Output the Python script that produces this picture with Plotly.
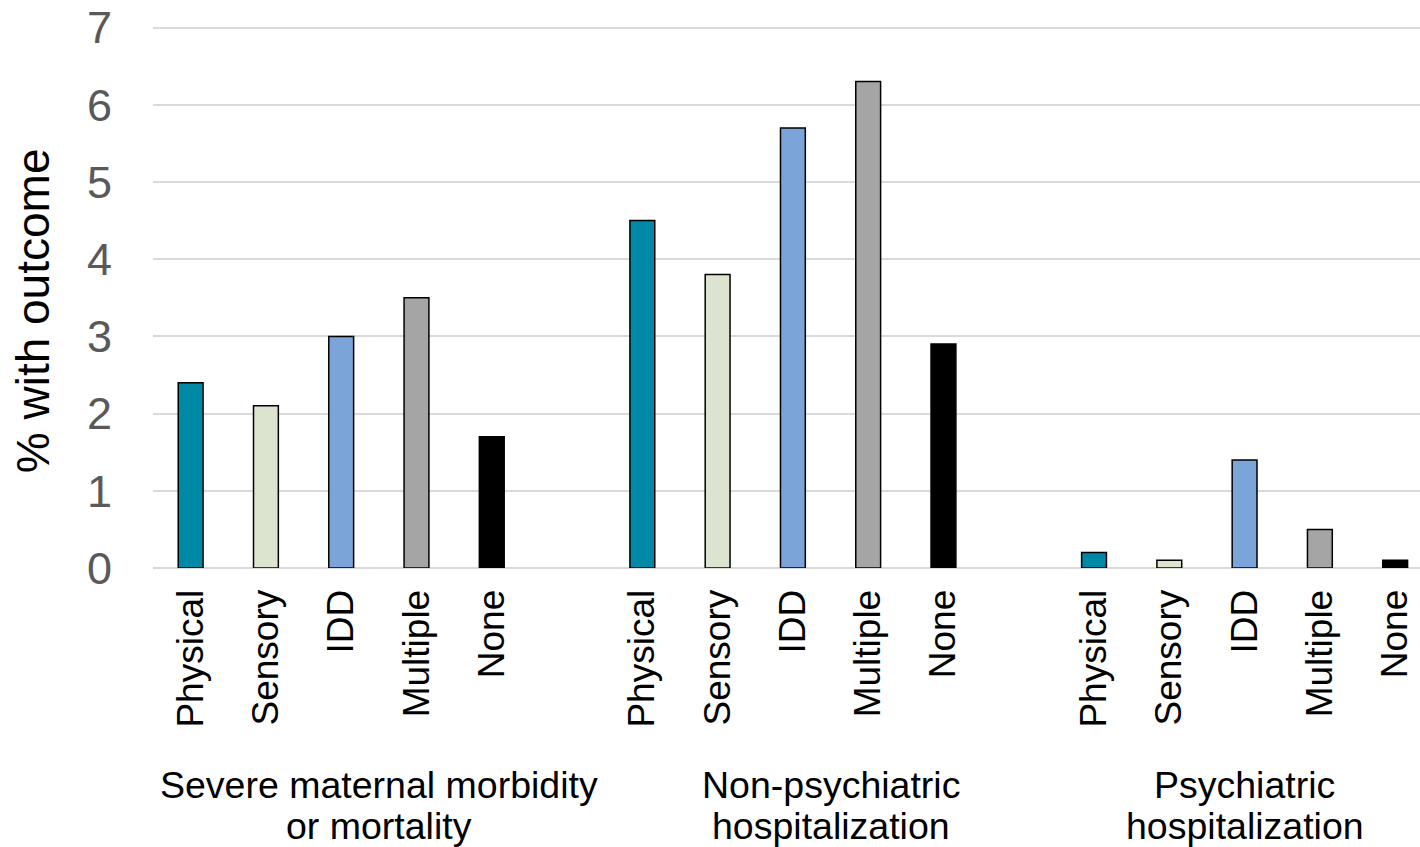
import plotly.graph_objects as go

# Outcome groups and disability categories
groups = ["Severe maternal morbidity<br>or mortality", "Non-psychiatric<br>hospitalization", "Psychiatric<br>hospitalization"]
categories = ["Physical", "Sensory", "IDD", "Multiple", "None"]

# % with outcome, one list per disability category (ordered by outcome group)
physical = [2.4, 4.5, 0.2]
sensory = [2.1, 3.8, 0.1]
idd = [3.0, 5.7, 1.4]
multiple = [3.5, 6.3, 0.5]
none = [1.7, 2.9, 0.1]

series = [physical, sensory, idd, multiple, none]
colors = ["#0089A7", "#DCE3CF", "#7BA4D9", "#A5A5A5", "#000000"]

FONT = "Liberation Sans, Arial, sans-serif"
slot = len(categories) + 1  # one blank slot between groups

fig = go.Figure()
for ci, (name, vals, col) in enumerate(zip(categories, series, colors)):
    xs = [g * slot + ci for g in range(len(groups))]
    fig.add_trace(go.Bar(
        x=xs, y=vals, name=name, width=0.33,
        marker=dict(color=col, line=dict(color="#000000", width=1.5)),
    ))

tickvals = [g * slot + ci for g in range(len(groups)) for ci in range(len(categories))]
ticktext = [c for g in range(len(groups)) for c in categories]

fig.update_layout(
    width=1420, height=847,
    margin=dict(l=153, r=0, t=26, b=279),
    paper_bgcolor="white", plot_bgcolor="white",
    showlegend=False, barmode="overlay",
    font=dict(family=FONT),
    xaxis=dict(
        range=[-0.5, 16.33], tickvals=tickvals, ticktext=ticktext,
        tickangle=-90, tickfont=dict(size=37, color="#000000", family=FONT),
        ticks="outside", ticklen=6, tickcolor="rgba(0,0,0,0)",
        showgrid=False, zeroline=False, showline=False,
    ),
    yaxis=dict(
        range=[0, 7.02], tickvals=list(range(8)),
        tickfont=dict(size=45, color="#595959", family=FONT),
        showgrid=True, gridcolor="#D9D9D9", gridwidth=1.5,
        zeroline=True, zerolinecolor="#D9D9D9", zerolinewidth=1.5,
        ticklabelstandoff=40, showline=False,
    ),
)

# y axis title
fig.add_annotation(
    text="% with outcome", xref="paper", yref="paper",
    x=-0.0946, y=0.474, xanchor="center", yanchor="middle",
    textangle=-90, showarrow=False,
    font=dict(size=46, color="#000000", family=FONT),
)

# group labels, centred over each group's slots
centers = [2.5, 8.5, 14]
plot_h = 847 - 26 - 279
for g, label in enumerate(groups):
    for li, line in enumerate(label.split("<br>")):
        fig.add_annotation(
            text=line, xref="x", yref="paper",
            x=centers[g], y=(568 - (785 + 41 * li)) / plot_h,
            xanchor="center", yanchor="middle", showarrow=False,
            font=dict(size=37.5, color="#000000", family=FONT),
        )

fig.write_html("out.html")
